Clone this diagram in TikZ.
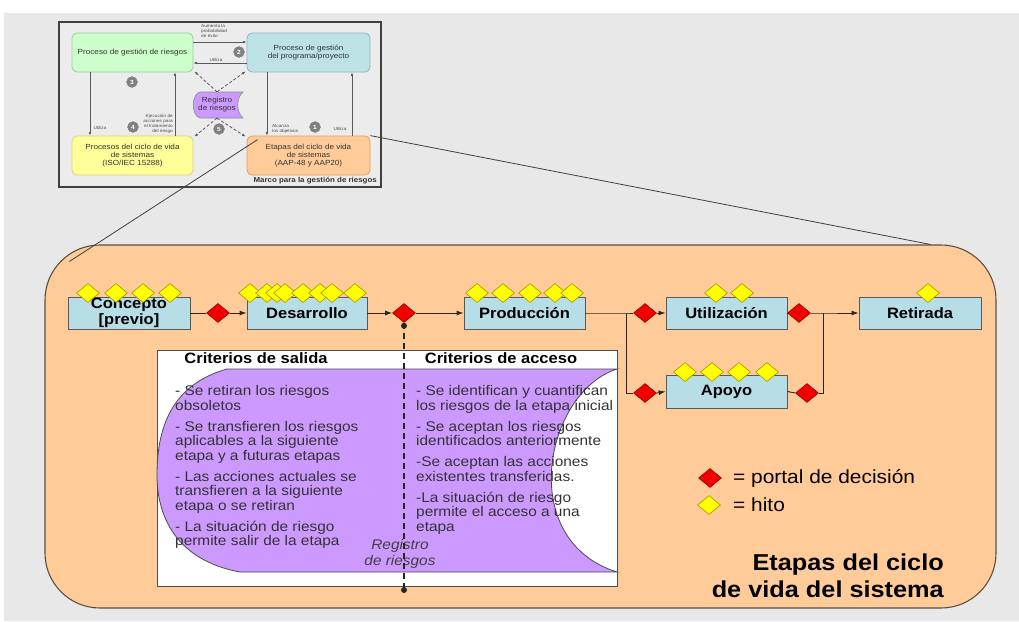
\documentclass[tikz,border=0pt]{standalone}
\usepackage{fontspec}
\setmainfont{Liberation Sans}[FakeStretch=1.1]
\usetikzlibrary{shapes.geometric,arrows.meta,calc}

\definecolor{bggray}{HTML}{E8E8E8}
\definecolor{framegray}{HTML}{ECECEC}
\definecolor{peach}{HTML}{FFCC99}
\definecolor{peachedge}{HTML}{5E5040}
\definecolor{stageblue}{HTML}{B7DDE6}
\definecolor{lilac}{HTML}{CC99FF}
\definecolor{gatered}{HTML}{F20000}
\definecolor{gatedark}{HTML}{900000}
\definecolor{hitoyellow}{HTML}{FFFF00}
\definecolor{hitodark}{HTML}{A89400}
\definecolor{smgreen}{HTML}{CCFFCC}
\definecolor{smgreenedge}{HTML}{99CC99}
\definecolor{smcyan}{HTML}{BCE2E6}
\definecolor{smcyanedge}{HTML}{90B8C0}
\definecolor{smyellow}{HTML}{FFFF99}
\definecolor{smyellowedge}{HTML}{D8D080}
\definecolor{smorange}{HTML}{FFCC99}
\definecolor{smorangeedge}{HTML}{E0A060}
\definecolor{badge}{HTML}{808080}

\begin{document}
\begin{tikzpicture}[x=1pt,y=-1pt,
  stagebox/.style={draw=black!65, line width=0.9pt, fill=stageblue,
    minimum width=121pt, minimum height=32pt, inner sep=0pt,
    font=\fontsize{15}{16}\selectfont\bfseries, align=center},
  gate/.style={shape=diamond, draw=gatedark, fill=gatered, line width=0.6pt,
    inner sep=0pt, minimum width=23pt, minimum height=19pt},
  hito/.style={shape=diamond, draw=hitodark, fill=hitoyellow, line width=0.6pt,
    inner sep=0pt, minimum width=23pt, minimum height=19pt},
  flow/.style={line width=0.9pt, draw=black!85},
  arr/.style={flow, -{Latex[length=7pt,width=5pt]}},
  coltext/.style={inner sep=0pt, align=left, text=black!80,
    font=\fontsize{14}{14.5}\selectfont},
  header/.style={inner sep=0pt, font=\fontsize{15}{16}\selectfont\bfseries},
  smbox/.style={rounded corners=5pt, line width=0.8pt, minimum width=121pt,
    minimum height=39pt, inner sep=1pt, align=center,
    font=\fontsize{7.4}{8}\selectfont, text=black!80},
  smlabel/.style={inner sep=0pt, font=\fontsize{4.3}{5.2}\selectfont, text=black!70},
  smarr/.style={line width=0.6pt, draw=black!65, -{Latex[length=3.5pt,width=2.6pt]}},
  smdash/.style={line width=0.8pt, draw=black!65, dash pattern=on 3pt off 2pt,
    -{Latex[length=3.5pt,width=2.6pt]}},
  badgenode/.style={circle, fill=badge, draw=black!50, line width=0.3pt,
    minimum size=11pt, inner sep=0pt, text=white,
    font=\fontsize{6}{6}\selectfont\bfseries},
  zoomline/.style={line width=0.8pt, draw=black!75}
]
\useasboundingbox (0,0) rectangle (1019,621);
\fill[white] (0,0) rectangle (1019,621);
\fill[bggray] (4,13) rectangle (1019,621);

% ---------- framework overview (top left) ----------
\draw[fill=framegray, draw=black!75, line width=1.2pt] (59,22) rectangle (381,187);

\node[smbox, draw=smgreenedge, fill=smgreen] (greenS) at (132.5,52.5) {Proceso de gestión de riesgos};
\node[smbox, draw=smcyanedge, fill=smcyan, minimum width=123pt] (cyanS) at (308.5,52.5) {Proceso de gestión\\del programa/proyecto};
\node[smbox, draw=smyellowedge, fill=smyellow] (yellowS) at (132.5,155.5) {Procesos del ciclo de vida\\de sistemas\\(ISO/IEC 15288)};
\node[smbox, draw=smorangeedge, fill=smorange, minimum width=123pt] (orangeS) at (308.5,155.5) {Etapas del ciclo de vida\\de sistemas\\(AAP-48 y AAP20)};

% small risk register (stored-data shape)
\draw[fill=lilac, draw=black!45, line width=0.6pt]
  (200,92) -- (243,92) .. controls (236,98) and (236,112) .. (243,118)
  -- (200,118) .. controls (191,116) and (191,94) .. (200,92) -- cycle;
\node[inner sep=0pt, minimum width=50pt, minimum height=26pt, align=center,
  font=\fontsize{7.4}{8}\selectfont, text=black!80] (regS) at (217,105) {Registro\\de riesgos};

% arrows between the processes
\draw[smarr] ([yshift=10.5pt]greenS.east) -- ([yshift=10.5pt]cyanS.west);
\draw[smarr] ([yshift=-10.5pt]cyanS.west) -- ([yshift=-10.5pt]greenS.east);
\draw[smarr] ([xshift=-42.5pt]greenS.south) -- ([xshift=-42.5pt]yellowS.north);
\draw[smarr] ([xshift=42.5pt]yellowS.north) -- ([xshift=42.5pt]greenS.south);
\draw[smarr] ([xshift=-41.5pt]cyanS.south) -- ([xshift=-41.5pt]orangeS.north);
\draw[smarr] ([xshift=43.5pt]orangeS.north) -- ([xshift=43.5pt]cyanS.south);

\draw[smdash] (regS.north) -- ([shift={(1,-1)}]greenS.south east);
\draw[smdash] (regS.north) -- ([shift={(-1,-1)}]cyanS.south west);
\draw[smdash] (regS.south) -- ([shift={(1,1)}]yellowS.north east);
\draw[smdash] (regS.south) -- ([shift={(-1,1)}]orangeS.north west);

\node[smlabel, anchor=west, align=left] (lblAumenta) at (201,31) {Aumenta la\\probabilidad\\de éxito};
\node[smlabel] (lblUtilA) at (216,60) {Utiliza};
\node[smlabel] (lblUtilB) at (100,128) {Utiliza};
\node[smlabel, anchor=east, align=right] (lblEjec) at (173,124) {Ejecución de\\acciones para\\el tratamiento\\del riesgo};
\node[smlabel, anchor=west, align=left] (lblAlc) at (272,129) {Alcanza\\los objetivos};
\node[smlabel] (lblUtilC) at (340,129) {Utiliza};

\node[badgenode] (b1) at (315,127) {1};
\node[badgenode] (b2) at (239,52) {2};
\node[badgenode] (b3) at (132,82) {3};
\node[badgenode] (b4) at (133,127) {4};
\node[badgenode] (b5) at (219,129) {5};

\node[anchor=east, inner sep=0pt, font=\fontsize{7.2}{8}\selectfont\bfseries, text=black!80]
  (marco) at (377,181) {Marco para la gestión de riesgos};

% ---------- life-cycle stages panel ----------
\node[draw=peachedge, fill=peach, line width=1.1pt, rounded corners=55pt,
  minimum width=951pt, minimum height=363pt, inner sep=0pt] (lifecycle) at (520.5,426.5) {};

\draw[zoomline] ([shift={(11,4)}]orangeS.north west) -- ([shift={(25,17)}]lifecycle.north west);
\draw[zoomline] (orangeS.north east) -- ([xshift=-66pt]lifecycle.north east);

% exit / entry criteria
\node[draw=black!70, fill=white, line width=0.8pt, minimum width=460pt,
  minimum height=236pt, inner sep=0pt] (criterios) at (387,468) {};
\draw[fill=lilac, draw=black!70, line width=0.8pt]
  (227,369) -- (617,369) .. controls (545,392) and (515,540) .. (617,572)
  -- (240,572) .. controls (175,560) and (157,515) .. (157,475)
  .. controls (157,430) and (170,385) .. (227,369) -- cycle;

\node[header] (hSalida) at (256,358) {Criterios de salida};
\node[header] (hAcceso) at (501,358) {Criterios de acceso};

\node[coltext, anchor=north west] (salida) at (175,385.5) {%
- Se retiran los riesgos\\obsoletos\\[6.5pt]%
- Se transfieren los riesgos\\aplicables a la siguiente\\etapa y a futuras etapas\\[6.5pt]%
- Las acciones actuales se\\transfieren a la siguiente\\etapa o se retiran\\[6.5pt]%
- La situación de riesgo\\permite salir de la etapa};

\node[coltext, anchor=north west] (acceso) at (416,385.5) {%
- Se identifican y cuantifican\\los riesgos de la etapa inicial\\[6.5pt]%
- Se aceptan los riesgos\\identificados anteriormente\\[6.5pt]%
-Se aceptan las acciones\\existentes transferidas.\\[6.5pt]%
-La situación de riesgo\\permite el acceso a una\\etapa};

\node[inner sep=0pt, align=center, text=black!75,
  font=\fontsize{14}{16}\selectfont\itshape] (registro) at (400,554) {Registro\\de riesgos};

% stages
\node[stagebox, minimum width=122pt] (concepto) at (129,313) {Concepto\\{[previo]}};
\node[stagebox, minimum width=120pt] (desarrollo) at (307,313) {Desarrollo};
\node[stagebox] (produccion) at (524.5,313) {Producción};
\node[stagebox] (utilizacion) at (726.5,313) {Utilización};
\node[stagebox, minimum height=33pt] (apoyo) at (726.5,391.5) {Apoyo};
\node[stagebox, minimum width=122pt] (retirada) at (920,313) {Retirada};

% milestones
\foreach \x [count=\i] in {88,116,143,170} \node[hito] (hc\i) at (\x,293) {};
\foreach \x [count=\i] in {250,267,277,285,303,320,332,355} \node[hito] (hd\i) at (\x,293) {};
\foreach \x [count=\i] in {477,503,530,555,572} \node[hito] (hp\i) at (\x,293) {};
\foreach \x [count=\i] in {716,742} \node[hito] (hu\i) at (\x,293) {};
\foreach \x [count=\i] in {685,712,739,767} \node[hito] (ha\i) at (\x,372) {};
\node[hito] (hr1) at (928,293) {};

% decision gates
\node[gate] (g1) at (218,313) {};
\node[gate] (g2) at (404,313) {};
\node[gate] (g3) at (645,313) {};
\node[gate] (g4) at (645,393) {};
\node[gate] (g5) at (799,313) {};
\node[gate] (g6) at (807,393) {};

\coordinate (split) at (626,313);
\coordinate (merge) at (823,313);
\coordinate (regEnd) at (404,590);

\draw[flow] (concepto.east) -- (g1.west);
\draw[arr] (g1.east) -- (desarrollo.west);
\draw[arr] (desarrollo.east) -- (g2.west);
\draw[arr] (g2.east) -- (produccion.west);
\draw[flow] (produccion.east) -- (split) -- (g3.west);
\draw[flow] (split) |- (g4.west);
\draw[arr] (g3.east) -- (utilizacion.west);
\draw[arr] (g4.east) -- (apoyo.west);
\draw[flow] (utilizacion.east) -- (g5.west);
\draw[arr] (g5.east) -- (merge) -- (retirada.west);
\draw[flow] (apoyo.east) -- (g6.west);
\draw[flow] (g6.east) -| (merge);

% register timeline through the gate
\draw[line width=2pt, draw=black!85, dash pattern=on 6pt off 4pt] (g2.south) -- (regEnd);
\fill[black!85] ([yshift=-3pt]g2.south) circle (3pt);
\fill[black!85] (regEnd) circle (3pt);

% legend
\node[gate] (legGate) at (710,478) {};
\node[hito] (legHito) at (709,505) {};
\node[anchor=west, inner sep=0pt, font=\fontsize{19}{20}\selectfont] (legGateTxt) at (733,478) {= portal de decisión};
\node[anchor=west, inner sep=0pt, font=\fontsize{19}{20}\selectfont] (legHitoTxt) at (733,505) {= hito};

\node[anchor=east, align=right, inner sep=0pt,
  font=\fontsize{23}{27}\selectfont\bfseries] (titulo) at (944,576) {Etapas del ciclo\\de vida del sistema};
\end{tikzpicture}
\end{document}
